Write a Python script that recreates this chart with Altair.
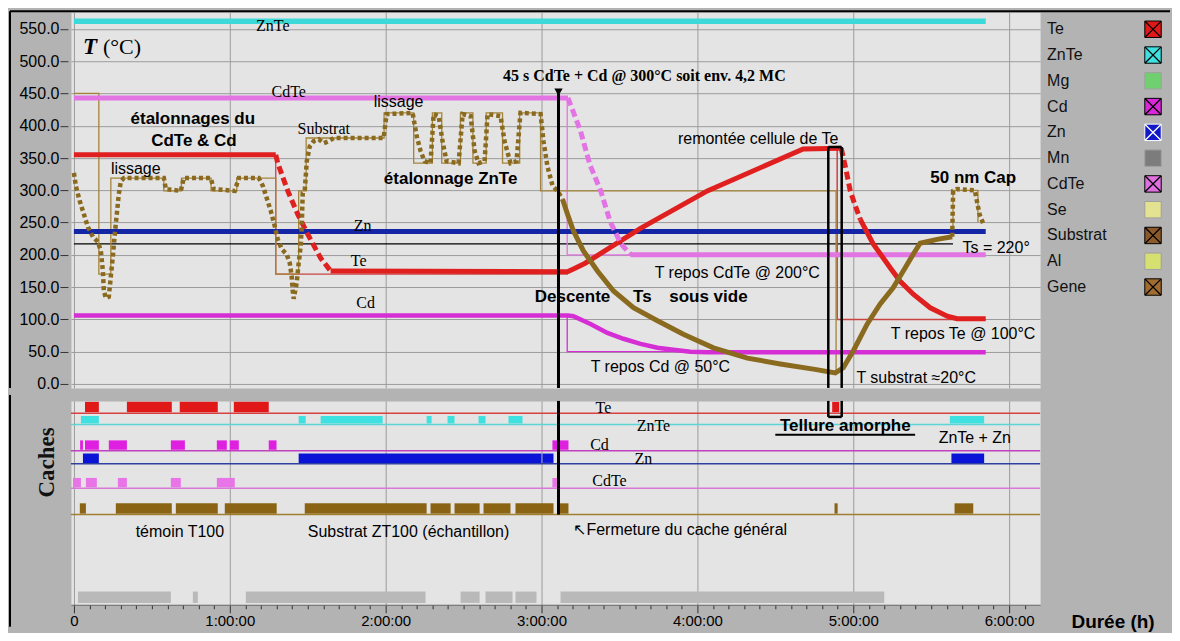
import altair as alt
import pandas as pd

# ------------------------------------------------------------------ fonts / colours
SANS = "Liberation Sans"
SERIF = "Liberation Serif"
BG = "#b3b3b3"
PLOT_BG = "#e4e4e4"
GRID = "#9c9c9c"

C_ZNTE = "#3dd8d8"
C_ZN = "#1426a6"
C_TE = "#e01f1f"
C_CDTE = "#e374e3"
C_CD = "#d42ed4"
C_SUB = "#8a6a1e"
C_SUBSET = "#a4843a"
C_TESET = "#c94343"

# ------------------------------------------------------------------ scales / layout
X_DOMAIN = [-0.019, 6.199]     # hours
T_DOMAIN = [-6.2, 575.8]       # °C
C_DOMAIN = [0, 217]            # cache panel levels (top = 0)
W = 970
H_TOP = 376
H_BOT = 204

# ------------------------------------------------------------------ temperature data (h, °C)
ZNTE_T = [0.0, 5.85]
ZNTE_V = [562, 562]
ZN_T = [0.0, 5.85]
ZN_V = [236, 236]
TS_T = [0.0, 5.64]
TS_V = [217, 217]

CDTE_T = [0.0, 3.17]
CDTE_V = [443, 443]
CDTE_DROP_T = [3.17, 3.25, 3.31, 3.38, 3.44, 3.51, 3.57]
CDTE_DROP_V = [443, 392, 340, 299, 252, 217, 201]
CDTE_REST_T = [3.57, 5.85]
CDTE_REST_V = [200, 200]

TE_T1 = [0.0, 1.295]
TE_V1 = [355, 355]
TE_DROP1_T = [1.295, 1.308, 1.372, 1.436, 1.50, 1.583, 1.647]
TE_DROP1_V = [355, 342, 299, 263, 232, 195, 175]
TE_T2 = [1.647, 3.17, 3.205, 3.28, 3.635, 4.064, 4.679, 4.923]
TE_V2 = [175, 174, 178, 187, 241, 299, 364, 365]
TE_DROP2_T = [4.923, 4.949, 4.981, 5.013, 5.045]
TE_DROP2_V = [365, 337, 299, 276, 255]
TE_T3 = [5.045, 5.128, 5.237, 5.301, 5.385, 5.494, 5.603, 5.667, 5.85]
TE_V3 = [255, 217, 180, 159, 139, 118, 105, 101, 101]

CD_T = [0.0, 3.17, 3.205, 3.314, 3.423, 3.526, 3.635, 3.744, 3.846, 3.955, 4.064, 5.85]
CD_V = [106, 106, 105, 93, 79, 70, 62, 56, 53, 50, 49, 49]

# set-points (thin lines)
TE_SET_T = [1.295, 1.295, 3.17]
TE_SET_V = [355, 170, 170]
TE_SET2_T = [4.897, 4.897, 5.85]
TE_SET2_V = [365, 100, 100]
CDTE_SET_T = [3.165, 3.165, 3.6]
CDTE_SET_V = [443, 200, 200]
CD_SET_T = [3.165, 3.165, 4.0]
CD_SET_V = [106, 50, 50]
SUB_SET_T = [0.0, 0.16, 0.16, 0.237, 0.237, 0.577, 0.577, 0.69, 0.69, 0.88,
             0.88, 1.045, 1.045, 1.295, 1.295, 1.442, 1.442, 1.49, 1.49, 1.99,
             1.99, 2.18, 2.18, 2.30, 2.30, 2.36, 2.36, 2.48, 2.48, 2.56,
             2.56, 2.645, 2.645, 2.75, 2.75, 2.86, 2.86, 2.994, 2.994, 4.89, 4.89]
SUB_SET_V = [450, 450, 170, 170, 319, 319, 299, 299, 319, 319,
             299, 299, 319, 319, 170, 170, 299, 299, 381, 381,
             420, 420, 342, 342, 420, 420, 342, 342, 420, 420,
             342, 342, 420, 420, 342, 342, 420, 420, 299, 299, 20]
SUB_SET2_T = [5.64, 5.64, 5.80, 5.80]
SUB_SET2_V = [228, 300, 300, 250]

# measured substrate temperature
SUB_A_T = [0.0, 0.013, 0.038, 0.064, 0.090, 0.122, 0.154, 0.173, 0.186, 0.192,
           0.205, 0.224, 0.237, 0.250, 0.263, 0.276, 0.288, 0.301, 0.321, 0.577,
           0.590, 0.686, 0.705, 0.878, 0.897, 1.032, 1.058, 1.186, 1.212, 1.237,
           1.263, 1.288, 1.308, 1.333, 1.365, 1.385, 1.397, 1.404, 1.410, 1.429,
           1.442, 1.455, 1.462, 1.468, 1.481, 1.494, 1.513, 1.538, 1.571, 1.603,
           1.635, 1.667, 1.987, 2.006, 2.173, 2.199, 2.224, 2.250, 2.288, 2.308,
           2.340, 2.365, 2.391, 2.468, 2.494, 2.545, 2.571, 2.596, 2.635, 2.654,
           2.737, 2.763, 2.801, 2.840, 2.865, 2.994, 3.013, 3.038, 3.071, 3.103, 3.135]
SUB_A_V = [327, 306, 283, 263, 243, 228, 220, 206, 175, 144,
           133, 135, 167, 198, 234, 265, 294, 314, 319, 319,
           302, 299, 319, 319, 302, 299, 319, 319, 307, 288,
           268, 245, 224, 209, 201, 187, 167, 144, 132, 156,
           187, 214, 245, 296, 299, 345, 368, 376, 379, 373,
           376, 381, 381, 418, 420, 384, 361, 345, 342, 418,
           415, 376, 345, 342, 418, 415, 361, 342, 345, 418,
           415, 376, 342, 345, 420, 418, 376, 337, 307, 299, 286]
SUB_B_T = [3.135, 3.167, 3.205, 3.269, 3.359, 3.462, 3.590, 3.744, 3.910, 4.103,
           4.321, 4.532, 4.744, 4.885, 4.936, 5.0, 5.090, 5.173, 5.256, 5.321,
           5.385, 5.429, 5.538, 5.635]
SUB_B_V = [286, 263, 237, 206, 175, 144, 118, 98, 77, 56,
           40, 31, 23, 17, 25, 51, 93, 124, 149, 175,
           201, 218, 224, 228]
SUB_C_T = [5.635, 5.641, 5.667, 5.78, 5.81, 5.833]
SUB_C_V = [228, 299, 302, 300, 263, 249]

# markers
DEPOSIT_T = 3.109           # 45 s CdTe + Cd
DEPOSIT_TOP = 450
BOX_T = [4.840, 4.926]      # "Tellure amorphe" box
BOX_TOP = 367

# ------------------------------------------------------------------ cache (shutter) data
CACHE_ROWS = ["Te", "ZnTe", "Cd", "Zn", "CdTe", "Substrat", "Gene"]
CACHE_COLORS = ["#e01818", "#3fe0e0", "#e020e0", "#0a14d6", "#e874e8", "#8a6414", "#b9b9b9"]
BASE_COLORS = ["#d84040", "#5ad6d6", "#c040c0", "#3040a0", "#d878d8", "#a08030", None]
ROW_TOP = [1, 16, 42, 56, 82, 109, 203]
ROW_BOT = [12, 24, 52, 66, 92, 120, 215]
ROW_BASE = [13, 25, 53, 67, 93, 121, None]
CACHE_BARS = {
    "Te": [(0.071, 0.160), (0.340, 0.628), (0.679, 0.923), (1.026, 1.25), (4.865, 4.91)],
    "ZnTe": [(0.045, 0.160), (1.442, 1.487), (1.583, 1.981), (2.263, 2.295), (2.397, 2.442),
             (2.596, 2.641), (2.788, 2.878), (5.62, 5.84)],
    "Cd": [(0.04, 0.058), (0.071, 0.160), (0.224, 0.340), (0.622, 0.712), (0.917, 0.981),
           (1.0, 1.058), (1.25, 1.30), (3.07, 3.173)],
    "Zn": [(0.058, 0.160), (1.442, 3.0), (3.006, 3.077), (5.63, 5.84)],
    "CdTe": [(-0.006, 0.045), (0.077, 0.147), (0.282, 0.340), (0.622, 0.686), (0.917, 1.032),
             (3.07, 3.115)],
    "Substrat": [(0.038, 0.077), (0.269, 0.628), (0.654, 0.923), (0.968, 1.301), (1.481, 2.263),
                 (2.288, 2.417), (2.442, 2.603), (2.628, 2.801), (2.833, 3.077), (3.115, 3.173),
                 (4.88, 4.90), (5.65, 5.77)],
    "Gene": [(0.026, 0.622), (0.763, 0.795), (1.103, 2.256), (2.481, 2.603), (2.641, 2.814),
             (2.833, 2.968), (3.122, 5.199)],
}

# ------------------------------------------------------------------ legend
LEG_NAMES = ["Te", "ZnTe", "Mg", "Cd", "Zn", "Mn", "CdTe", "Se", "Substrat", "Al", "Gene"]
LEG_COLORS = ["#e01818", "#40e0e0", "#70d070", "#d828d8", "#1018c8", "#7c7c7c",
              "#e070e0", "#e2e290", "#8c5a28", "#d6e070", "#a06c30"]
LEG_EDGE = ["#000000", "#000000", "#a0a0a0", "#000000", "#ffffff", "#a0a0a0",
            "#000000", "#a0a0a0", "#000000", "#a0a0a0", "#000000"]
LEG_CROSS = [1, 1, 0, 1, 1, 0, 1, 0, 1, 0, 1]
LEG_XCOL = ["#000000", "#000000", "#000000", "#000000", "#ffffff", "#000000",
            "#000000", "#000000", "#000000", "#000000", "#000000"]
LEG_LABEL_PX = 977
LEG_SWATCH_PX = 1083
LEG_Y0_PX = 17
LEG_DY_PX = 25.8

# ------------------------------------------------------------------ annotations
TOP_SANS = [("lissage", 0.397, 333), ("lissage", 2.083, 437),
            ("remontée cellule de Te", 4.39, 379), ("Ts = 220°", 5.917, 211),
            ("T repos CdTe @ 200°C", 4.256, 172), ("T repos Te @ 100°C", 5.705, 77),
            ("T repos Cd @ 50°C", 3.763, 26), ("T substrat ≈20°C", 5.404, 9)]
TOP_BOLD = [("étalonnages du", 0.763, 410), ("CdTe & Cd", 0.77, 376),
            ("étalonnage ZnTe", 2.417, 317), ("Descente", 3.199, 135), ("Ts", 3.647, 135),
            ("sous vide", 4.071, 135), ("50 nm Cap", 5.77, 319)]
TOP_SERIF = [("ZnTe", 1.276, 554), ("CdTe", 1.378, 452), ("Substrat", 1.603, 395),
             ("Zn", 1.853, 245), ("Te", 1.827, 190), ("Cd", 1.872, 125)]
TOP_SERIF_BOLD = [("45 s CdTe + Cd @ 300°C soit env. 4,2 MC", 3.66, 477)]

BOT_SERIF = [("Te", 3.397, 7), ("ZnTe", 3.718, 27), ("Cd", 3.372, 47), ("Zn", 3.654, 62),
             ("CdTe", 3.436, 85)]
BOT_SANS = [("ZnTe + Zn", 5.78, 40), ("témoin T100", 0.68, 140),
            ("Substrat ZT100 (échantillon)", 2.147, 140)]
BOT_SANS_LEFT = [("↖Fermeture du cache général", 3.205, 137)]
BOT_BOLD = [("Tellure amorphe", 4.949, 27)]
UNDERLINE = (4.50, 5.397, 36)
XTITLE = ("Durée (h)", 6.667, 235)


# ------------------------------------------------------------------ helpers
def px_to_t(px):
    return X_DOMAIN[0] + px / W * (X_DOMAIN[1] - X_DOMAIN[0])


def py_to_v(py):
    return T_DOMAIN[1] - py / H_TOP * (T_DOMAIN[1] - T_DOMAIN[0])


xs = alt.Scale(domain=X_DOMAIN, nice=False, zero=False)
ys_top = alt.Scale(domain=T_DOMAIN, nice=False, zero=False)
ys_bot = alt.Scale(domain=C_DOMAIN, nice=False, zero=False, reverse=True)

ax_top_x = alt.Axis(values=list(range(7)), labels=False, ticks=False, domain=False,
                    grid=True, gridColor=GRID, gridWidth=1, title=None)
ax_top_y = alt.Axis(values=list(range(0, 551, 50)), format=".1f", labelFont=SANS,
                    labelFontSize=16, labelColor="#000000", labelPadding=1, tickSize=8,
                    tickColor="#333333", offset=3, domain=False, grid=True,
                    gridColor=GRID, gridWidth=1, title=None)
HOUR = "abs(datum.value - round(datum.value)) < 0.01"
ax_bot_x = alt.Axis(values=[round(i * 0.1, 1) for i in range(62)],
                    labelExpr=HOUR + " ? (round(datum.value) == 0 ? '0' : round(datum.value) + ':00:00') : ''",
                    labelOverlap=False, labelFlush=False, labelFont=SANS, labelFontSize=15,
                    labelColor="#000000", labelPadding=1,
                    tickSize={"condition": {"test": HOUR, "value": 8}, "value": 4},
                    tickColor="#333333", domainColor="#666666",
                    grid=True, gridColor=GRID, gridWidth=1,
                    gridOpacity={"condition": {"test": HOUR, "value": 1}, "value": 0},
                    title=None)
ax_bot_y = alt.Axis(labels=False, ticks=False, domain=False, grid=False, title="Caches",
                    titleFont=SERIF, titleFontSize=23, titleFontWeight="bold",
                    titleColor="#111111", titleX=-24, titleY=61, titleAngle=270,
                    titleAlign="center", titleBaseline="middle")


def TX(f="t"):
    return alt.X(f"{f}:Q", scale=xs, axis=ax_top_x)


def TY(f="v"):
    return alt.Y(f"{f}:Q", scale=ys_top, axis=ax_top_y)


def BX(f="t"):
    return alt.X(f"{f}:Q", scale=xs, axis=ax_bot_x)


def BY(f="y"):
    return alt.Y(f"{f}:Q", scale=ys_bot, axis=ax_bot_y)


# ------------------------------------------------------------------ top panel tables
LINES = [
    ("ts", TS_T, TS_V, "#000000", 1.3, "thin"),
    ("te_set", TE_SET_T, TE_SET_V, C_TESET, 1.3, "thin"),
    ("te_set2", TE_SET2_T, TE_SET2_V, C_TESET, 1.5, "thin"),
    ("cdte_set", CDTE_SET_T, CDTE_SET_V, C_CDTE, 1.3, "thin"),
    ("cd_set", CD_SET_T, CD_SET_V, C_CD, 1.3, "thin"),
    ("sub_set", SUB_SET_T, SUB_SET_V, C_SUBSET, 1.3, "thin"),
    ("sub_set2", SUB_SET2_T, SUB_SET2_V, C_SUBSET, 1.3, "thin"),
    ("znte", ZNTE_T, ZNTE_V, C_ZNTE, 5.5, "solid"),
    ("zn", ZN_T, ZN_V, C_ZN, 5, "solid"),
    ("cdte", CDTE_T, CDTE_V, C_CDTE, 5, "solid"),
    ("cdte_rest", CDTE_REST_T, CDTE_REST_V, C_CDTE, 5, "solid"),
    ("te1", TE_T1, TE_V1, C_TE, 5, "solid"),
    ("te2", TE_T2, TE_V2, C_TE, 5, "solid"),
    ("te3", TE_T3, TE_V3, C_TE, 5, "solid"),
    ("cd", CD_T, CD_V, C_CD, 4.5, "solid"),
    ("cdte_drop", CDTE_DROP_T, CDTE_DROP_V, C_CDTE, 5, "dash"),
    ("te_drop1", TE_DROP1_T, TE_DROP1_V, C_TE, 5, "dash"),
    ("te_drop2", TE_DROP2_T, TE_DROP2_V, C_TE, 5, "dash"),
    ("sub_a", SUB_A_T, SUB_A_V, C_SUB, 4.5, "dot"),
    ("sub_c", SUB_C_T, SUB_C_V, C_SUB, 4.5, "dot"),
    ("sub_b", SUB_B_T, SUB_B_V, C_SUB, 5, "subsolid"),
]
rows = []
for key, ts, vs, col, w, sty in LINES:
    for i, (t, v) in enumerate(zip(ts, vs)):
        rows.append(dict(key=key, t=t, v=v, col=col, w=w, sty=sty, i=i))
lines = pd.DataFrame(rows)


def line_layer(sty, dash=None):
    df = lines[lines["sty"] == sty]
    mk = alt.Chart(df).mark_line(strokeDash=dash, strokeCap="butt") if dash else \
        alt.Chart(df).mark_line(strokeCap="butt")
    return mk.encode(x=TX(), y=TY(), color=alt.Color("col:N", scale=None),
                     strokeWidth=alt.StrokeWidth("w:Q", scale=None),
                     detail="key:N", order="i:Q")


def text_layer(items, font, size, weight="normal", style="normal", align="center", xf=TX, yf=TY,
               color="#000000"):
    df = pd.DataFrame(items, columns=["txt", "t", "v"])
    return alt.Chart(df).mark_text(font=font, fontSize=size, fontWeight=weight, fontStyle=style,
                                   align=align, baseline="middle", color=color).encode(
        x=xf(), y=yf("v"), text="txt:N")


one = pd.DataFrame({"z": [0]})

vert_top = pd.DataFrame({"t": [DEPOSIT_T, BOX_T[0], BOX_T[1]],
                         "v": [DEPOSIT_TOP, BOX_TOP, BOX_TOP],
                         "v2": [T_DOMAIN[0]] * 3,
                         "w": [3, 2.5, 2.5]})
box_top_edge = pd.DataFrame({"t": [BOX_T[0]], "t2": [BOX_T[1]], "v": [BOX_TOP]})
arrow = pd.DataFrame({"t": [DEPOSIT_T], "v": [DEPOSIT_TOP + 2]})

leg = pd.DataFrame({"name": LEG_NAMES, "col": LEG_COLORS, "edge": LEG_EDGE,
                    "cross": LEG_CROSS, "xc": LEG_XCOL})
leg["t"] = px_to_t(LEG_LABEL_PX)
leg["ts"] = px_to_t(LEG_SWATCH_PX)
leg["v"] = [py_to_v(LEG_Y0_PX + i * LEG_DY_PX) for i in range(len(leg))]

top_layers = [
    line_layer("thin"),
    line_layer("solid"),
    line_layer("dash", [8, 4]),
    line_layer("dot", [4, 3]),
    line_layer("subsolid"),
    alt.Chart(vert_top).mark_rule(color="#000000").encode(
        x=TX(), y=TY(), y2="v2:Q", strokeWidth=alt.StrokeWidth("w:Q", scale=None)),
    alt.Chart(box_top_edge).mark_rule(color="#000000", strokeWidth=2.5).encode(
        x=TX(), x2="t2:Q", y=TY()),
    alt.Chart(arrow).mark_point(shape="triangle-down", filled=True, size=70, color="#000000",
                                opacity=1).encode(x=TX(), y=TY()),
    text_layer(TOP_SANS, SANS, 16),
    text_layer(TOP_BOLD, SANS, 17, weight="bold"),
    text_layer(TOP_SERIF, SERIF, 16),
    text_layer(TOP_SERIF_BOLD, SERIF, 16, weight="bold"),
    text_layer([("T", 0.058, 522)], SERIF, 23, weight="bold", style="italic", align="left"),
    text_layer([("(°C)", 0.186, 522)], SERIF, 22, align="left"),
    # legend
    alt.Chart(leg).mark_text(font=SANS, fontSize=16, align="left", baseline="middle",
                             color="#111111").encode(x=TX(), y=TY(), text="name:N"),
    alt.Chart(leg).mark_square(size=270, strokeWidth=1, opacity=1).encode(
        x=TX("ts"), y=TY(), fill=alt.Fill("col:N", scale=None),
        stroke=alt.Stroke("edge:N", scale=None)),
    alt.Chart(leg[leg["cross"] == 1]).mark_point(shape="M-1,-1L1,1M-1,1L1,-1", size=250,
                                                 filled=False, strokeWidth=1.3,
                                                 opacity=1).encode(
        x=TX("ts"), y=TY(), color=alt.Color("xc:N", scale=None)),
    # frame
    alt.Chart(one).mark_rule(color="#000000", strokeWidth=2).encode(
        x=alt.value(-61), x2=alt.value(1100), y=alt.value(-1)),
    alt.Chart(one).mark_rule(color="#000000", strokeWidth=2).encode(
        x=alt.value(-61), y=alt.value(-1), y2=alt.value(H_TOP)),
]
top = alt.layer(*top_layers).properties(width=W, height=H_TOP)

# ------------------------------------------------------------------ bottom panel tables
bars = []
bases = []
for r, name in enumerate(CACHE_ROWS):
    for s, e in CACHE_BARS[name]:
        bars.append(dict(row=name, t=s, e=e, y=ROW_TOP[r], y2=ROW_BOT[r], col=CACHE_COLORS[r]))
    if ROW_BASE[r] is not None:
        bases.append(dict(row=name, y=ROW_BASE[r], col=BASE_COLORS[r]))
bars = pd.DataFrame(bars)
bases = pd.DataFrame(bases)

vert_bot = pd.DataFrame({"t": [DEPOSIT_T, BOX_T[0], BOX_T[1]],
                         "y": [0, 0, 0],
                         "y2": [ROW_BASE[5], 17, 17],
                         "w": [3, 2.5, 2.5]})
hbot = pd.DataFrame({"t": [BOX_T[0], UNDERLINE[0]], "t2": [BOX_T[1], UNDERLINE[1]],
                     "y": [17, UNDERLINE[2]], "w": [2.5, 2]})

bot_layers = [
    alt.Chart(bars).mark_rect().encode(x=BX(), x2="e:Q", y=BY(), y2="y2:Q",
                                       color=alt.Color("col:N", scale=None)),
    alt.Chart(bases).mark_rule(strokeWidth=1.5).encode(y=BY(), color=alt.Color("col:N", scale=None)),
    alt.Chart(vert_bot).mark_rule(color="#000000").encode(
        x=BX(), y=BY(), y2="y2:Q", strokeWidth=alt.StrokeWidth("w:Q", scale=None)),
    alt.Chart(hbot).mark_rule(color="#000000").encode(
        x=BX(), x2="t2:Q", y=BY(), strokeWidth=alt.StrokeWidth("w:Q", scale=None)),
    text_layer(BOT_SERIF, SERIF, 16, xf=BX, yf=BY),
    text_layer(BOT_SANS, SANS, 16, xf=BX, yf=BY),
    text_layer(BOT_SANS_LEFT, SANS, 16, align="left", xf=BX, yf=BY),
    text_layer(BOT_BOLD, SANS, 17, weight="bold", xf=BX, yf=BY),
    text_layer([XTITLE], SANS, 19, weight="bold", xf=BX, yf=BY),
    alt.Chart(one).mark_rule(color="#000000", strokeWidth=2).encode(
        x=alt.value(-61), y=alt.value(-6), y2=alt.value(H_BOT + 22)),
]
bottom = alt.layer(*bot_layers).properties(width=W, height=H_BOT)

chart = alt.vconcat(top, bottom, spacing=0).properties(
    background=BG, padding={"left": 0, "top": 1, "right": 0, "bottom": 0}
).configure_view(fill=PLOT_BG, stroke="transparent")

chart.save("out.html", embed_options={"renderer": "svg", "actions": False})
